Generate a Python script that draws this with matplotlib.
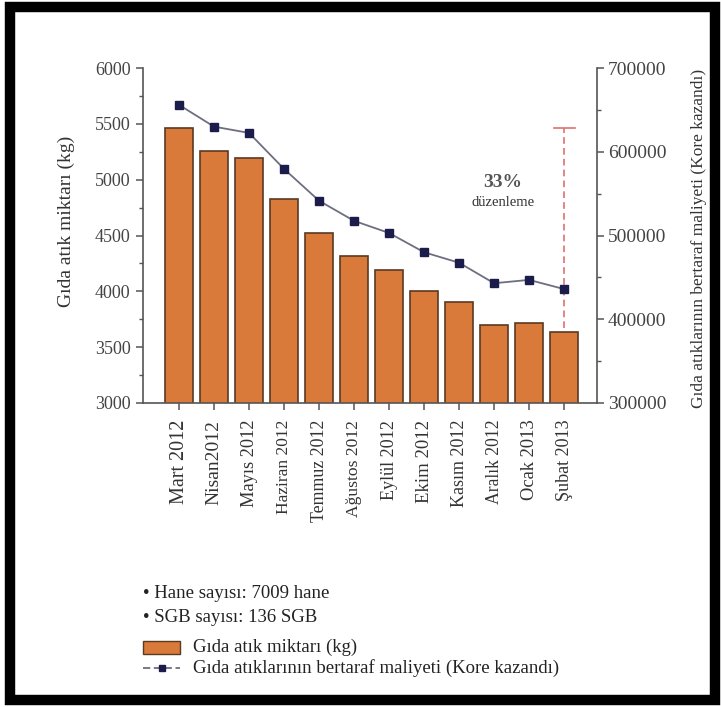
import numpy as np
import matplotlib.pyplot as plt
from matplotlib.patches import Rectangle
from matplotlib.lines import Line2D
from matplotlib.ticker import MultipleLocator

plt.rcParams['font.family'] = ['Liberation Serif', 'DejaVu Serif']

aylar = ['Mart 2012', 'Nisan2012', 'Mayıs 2012', 'Haziran 2012', 'Temmuz 2012',
         'Ağustos 2012', 'Eylül 2012', 'Ekim 2012', 'Kasım 2012', 'Aralık 2012',
         'Ocak 2013', 'Şubat 2013']
etiket_boyu = [14.5, 14, 13.2, 12.5, 12.9, 12.6, 13.1, 13.5, 13, 12.7, 13.3, 13]
atik_kg = [5460, 5260, 5190, 4825, 4520, 4320, 4195, 4000, 3900, 3695, 3720, 3635]
maliyet = [656000, 630000, 622500, 579500, 541500, 517500, 503000, 480000,
           467500, 443000, 447000, 436000]
notlar = ['• Hane sayısı: 7009 hane', '• SGB sayısı: 136 SGB']
seri_adlari = ['Gıda atık miktarı (kg)',
               'Gıda atıklarının bertaraf maliyeti (Kore kazandı)']

turuncu = '#d97a3a'
kenar = '#5a3a22'
koyu = '#1c1c4c'
cizgi = '#6e6e80'
gri = '#555555'
yazi = '#333333'

fig = plt.figure(figsize=(7.21, 7.07), dpi=100)
ax = fig.add_axes([0.1983, 0.43, 0.6297, 0.4738])
ax2 = ax.twinx()

x = np.arange(len(aylar))
ax.bar(x, atik_kg, width=0.8, color=turuncu, edgecolor=kenar, linewidth=1.2, zorder=2)
ax.set_ylim(3000, 6000)
ax.set_xlim(-1.03, len(aylar) - 0.06)

ax2.plot(x, maliyet, color=cizgi, linewidth=1.3, marker='s', markersize=6,
         markerfacecolor=koyu, markeredgecolor=koyu, zorder=3)
ax2.set_ylim(300000, 700000)

# düzenleme oranı: ilk aydan son aya düşüş
ax.plot([x[-1], x[-1]], [atik_kg[-1] + 40, atik_kg[0]], color='#e07070',
        linestyle=(0, (4, 2.5)), linewidth=1.2, zorder=4)
ax.plot([x[-1] - 0.3, x[-1] + 0.3], [atik_kg[0], atik_kg[0]], color='#e07070',
        linewidth=1.2, zorder=4)
oran = round((atik_kg[0] - atik_kg[-1]) / atik_kg[0] * 100)
ax.text(x[-1] - 1.75, 4975, f'{oran}%', ha='center', va='center', fontsize=14,
        fontweight='bold', color='#555555')
ax.text(x[-1] - 1.75, 4800, 'düzenleme', ha='center', va='center', fontsize=10.5,
        color='#333333')

for a in (ax, ax2):
    a.spines['top'].set_visible(False)
    for s in a.spines.values():
        s.set_color(gri)
        s.set_linewidth(1.2)
ax.spines['right'].set_visible(False)
ax2.spines['left'].set_visible(False)
ax2.spines['bottom'].set_visible(False)

ax.yaxis.set_major_locator(MultipleLocator(500))
ax.yaxis.set_minor_locator(MultipleLocator(250))
ax2.yaxis.set_major_locator(MultipleLocator(100000))
ax2.yaxis.set_minor_locator(MultipleLocator(50000))
ax.tick_params(axis='y', which='major', length=5, width=1.1, color=gri,
               labelsize=13, labelcolor='#444444', pad=4)
ax.tick_params(axis='y', which='minor', length=3, width=1, color=gri)
ax2.tick_params(axis='y', which='major', length=5, width=1.1, color=gri,
                labelsize=14, labelcolor='#444444', pad=3)
ax2.tick_params(axis='y', which='minor', length=3, width=1, color=gri)
ax.tick_params(axis='x', length=5, width=1.1, color=gri, pad=7)

ax.set_xticks(x)
ax.set_xticklabels(aylar, rotation=90, va='top', color=yazi)
for lbl, fs in zip(ax.get_xticklabels(), etiket_boyu):
    lbl.set_fontsize(fs)

ax.set_ylabel('Gıda atık miktarı (kg)', fontsize=14, color=yazi)
ax.yaxis.set_label_coords(-0.15, 0.543)
ax2.set_ylabel(seri_adlari[1], fontsize=12.5, color=yazi)
ax2.yaxis.set_label_coords(1.207, 0.4925)

# alt bilgi ve açıklama
W, H = 721, 707
for i, t in enumerate(notlar):
    fig.text(143 / W, 1 - (593 + 24 * i) / H, t, fontsize=13.5, color='#222222',
             va='center')
fig.patches.append(Rectangle((143 / W, 1 - 654 / H), 37 / W, 13 / H,
                             transform=fig.transFigure, facecolor=turuncu,
                             edgecolor=kenar, linewidth=1))
fig.lines.append(Line2D([143 / W, 180 / W], [1 - 668 / H, 1 - 668 / H],
                        transform=fig.transFigure, color=cizgi, linewidth=1.3,
                        linestyle=(0, (4, 2))))
fig.lines.append(Line2D([161.5 / W], [1 - 668 / H], transform=fig.transFigure,
                        marker='s', markersize=5, markerfacecolor=koyu,
                        markeredgecolor=koyu, linestyle='none'))
for i, t in enumerate(seri_adlari):
    fig.text(193 / W, 1 - (647 + 21 * i) / H, t, fontsize=13.5, color='#222222',
             va='center')

# siyah çerçeve
fig.patches.append(Rectangle((10 / W, 7 / H), 705 / W, 693 / H,
                             transform=fig.transFigure, fill=False,
                             edgecolor='black', linewidth=7.5))

fig.savefig('out.png', dpi=100)
